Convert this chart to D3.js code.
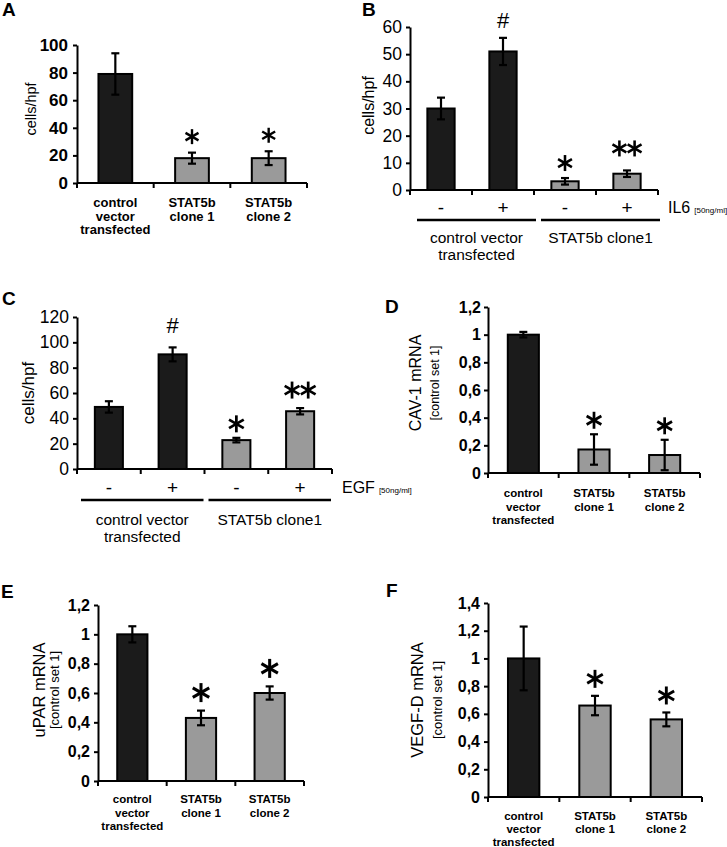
<!DOCTYPE html>
<html><head><meta charset="utf-8">
<script src="https://cdn.jsdelivr.net/npm/d3@7"></script>
<style>body{margin:0;background:#fff} svg{display:block} text{font-family:"Liberation Sans",Arial,sans-serif}</style>
</head><body><svg id="c" width="727" height="847"></svg>
<script>
// ---------- data ----------
const catLabels3 = [["control","vector","transfected"],["STAT5b","clone 1"],["STAT5b","clone 2"]];
const kinds3 = ["control","STAT5b","STAT5b"];
const kinds4 = ["control","control","STAT5b","STAT5b"];
const treatLabels = ["-","+","-","+"];
const groupLabels = [["control vector","transfected"],["STAT5b clone1"]];
const groupSpans = [[0,1],[2,3]];

const valuesA = [79, 18, 18];
const errorsA = [15, 4, 5];
const marksA = ["", "*", "*"];
const ticksA = [0,20,40,60,80,100];

const valuesB = [30, 51, 3.2, 6];
const errorsB = [4, 5, 1.2, 1.2];
const marksB = ["", "#", "*", "**"];
const ticksB = [0,10,20,30,40,50,60];

const valuesC = [49, 90.5, 22.8, 45.6];
const errorsC = [4.5, 5.5, 1.8, 2.5];
const marksC = ["", "#", "*", "**"];
const ticksC = [0,20,40,60,80,100,120];

const valuesD = [1.0, 0.17, 0.13];
const errorsD = [0.02, 0.11, 0.11];
const marksD = ["", "*", "*"];
const ticksD = [0,0.2,0.4,0.6,0.8,1,1.2];

const valuesE = [1.0, 0.43, 0.60];
const errorsE = [0.055, 0.05, 0.045];
const marksE = ["", "*", "*"];
const ticksE = [0,0.2,0.4,0.6,0.8,1,1.2];

const valuesF = [1.0, 0.66, 0.56];
const errorsF = [0.23, 0.07, 0.05];
const marksF = ["", "*", "*"];
const ticksF = [0,0.2,0.4,0.6,0.8,1,1.2,1.4];

// ---------- drawing ----------
const svg = d3.select("#c");
svg.append("rect").attr("width",727).attr("height",847).attr("fill","#fff");
const color = d3.scaleOrdinal().domain(["control","STAT5b"]).range(["#1b1b1b","#9a9a9a"]);
const FONT = "Liberation Sans, Arial, sans-serif";
const commaFmt = d => String(d).replace(".", ",");
const plainFmt = d => String(d);

function star(g, cx, cy, r) {
  const a = Math.PI/6;
  const pts = [[0,-r,0,r],[-r*Math.cos(a),-r*Math.sin(a),r*Math.cos(a),r*Math.sin(a)],[-r*Math.cos(a),r*Math.sin(a),r*Math.cos(a),-r*Math.sin(a)]];
  pts.forEach(p => g.append("line").attr("x1",cx+p[0]).attr("y1",cy+p[1]).attr("x2",cx+p[2]).attr("y2",cy+p[3])
    .attr("stroke","#000").attr("stroke-width",r*0.32));
}

function drawPanel(p) {
  const g = svg.append("g");
  const n = p.values.length;
  const x = d3.scaleBand().domain(d3.range(n)).range([p.x0, p.x1]);
  const y = d3.scaleLinear().domain([0, p.max]).range([p.y0, p.y1]);
  const bwd = x.bandwidth();
  const bw = bwd * 0.44;
  const cx = i => x(i) + bwd/2;

  // bars
  g.selectAll("rect.bar").data(p.values).join("rect").attr("class","bar")
    .attr("x",(d,i)=>cx(i)-bw/2).attr("y",d=>y(d)).attr("width",bw).attr("height",d=>y(0)-y(d))
    .attr("fill",(d,i)=>color(p.kinds[i])).attr("stroke","#000").attr("stroke-width",2);

  // error bars
  p.values.forEach((v,i) => {
    const e = p.errors[i];
    const top = y(v+e), bot = y(Math.max(0,v-e));
    g.append("line").attr("x1",cx(i)).attr("x2",cx(i)).attr("y1",top).attr("y2",bot).attr("stroke","#000").attr("stroke-width",2.2);
    [top,bot].forEach(yy => g.append("line").attr("x1",cx(i)-4).attr("x2",cx(i)+4).attr("y1",yy).attr("y2",yy).attr("stroke","#000").attr("stroke-width",2.2));
    const m = p.marks[i];
    if (m === "#") {
      g.append("text").attr("x",cx(i)).attr("y",top-p.hashOff).attr("text-anchor","middle").attr("font-size",22).text("#");
    } else if (m === "*") {
      star(g, cx(i), top-p.starOff, p.starR);
    } else if (m === "**") {
      star(g, cx(i)-p.starR*0.95, top-p.starOff2, p.starR);
      star(g, cx(i)+p.starR*0.95, top-p.starOff2, p.starR);
    }
  });

  // y axis
  const ya = g.append("g").attr("transform",`translate(${p.x0},0)`)
    .call(d3.axisLeft(y).tickValues(p.ticks).tickSize(4).tickSizeOuter(0).tickPadding(p.pad).tickFormat(p.fmt));
  ya.attr("font-family",FONT).attr("font-size",p.tickFont).attr("font-weight",p.tickWeight);
  ya.select(".domain").attr("stroke","#000").attr("stroke-width",2);
  ya.selectAll(".tick line").attr("stroke","#000").attr("stroke-width",2);
  ya.selectAll(".tick text").attr("fill","#000");

  // x axis
  g.append("line").attr("x1",p.x0).attr("x2",p.x1).attr("y1",p.y0).attr("y2",p.y0).attr("stroke","#000").attr("stroke-width",2);
  const bounds = d3.range(n).map(i=>x(i)).concat([p.x1]);
  bounds.forEach(b => g.append("line").attr("x1",b).attr("x2",b).attr("y1",p.y0).attr("y2",p.y0+5).attr("stroke","#000").attr("stroke-width",2));

  // y label
  const ly = (p.y0+p.y1)/2 + (p.labelDy||0);
  g.append("text").attr("transform",`translate(${p.labelX},${ly}) rotate(-90)`).attr("text-anchor","middle")
    .attr("dy","0.35em").attr("font-size",p.labelFont).text(p.label);
  if (p.subLabel) {
    g.append("text").attr("transform",`translate(${p.subX},${ly}) rotate(-90)`).attr("text-anchor","middle")
      .attr("dy","0.35em").attr("font-size",p.subFont).text(p.subLabel);
  }

  // panel letter
  g.append("text").attr("x",p.letterX).attr("y",p.letterY).attr("font-size",19).attr("font-weight","bold").text(p.letter);

  // category labels
  if (p.cats) {
    p.cats.forEach((lines,i) => {
      lines.forEach((t,k) => g.append("text").attr("x",cx(i)).attr("y",p.catY + k*p.catLH).attr("text-anchor","middle")
        .attr("font-size",p.catFont).attr("font-weight","bold").text(t));
    });
  }
  // treatment row
  if (p.treat) {
    p.treat.forEach((t,i) => g.append("text").attr("x",cx(i)).attr("y",p.treatY).attr("text-anchor","middle").attr("font-size",19).text(t));
    const tt = g.append("text").attr("x",p.x1+10).attr("y",p.treatY-1).attr("font-size",16).text(p.agent);
    tt.append("tspan").attr("font-size",8).attr("dx",4).text("[50ng/ml]");
    groupSpans.forEach((s,gi) => {
      const a = x(s[0]) + p.lineA, b = x(s[1]) + bwd + p.lineB;
      g.append("line").attr("x1",a).attr("x2",b).attr("y1",p.lineY).attr("y2",p.lineY).attr("stroke","#000").attr("stroke-width",2.5);
      groupLabels[gi].forEach((t,k) => g.append("text").attr("x",(a+b)/2).attr("y",p.groupY + k*17).attr("text-anchor","middle").attr("font-size",15.5).text(t));
    });
  }
}

drawPanel({letter:"A", letterX:2, letterY:16, values:valuesA, errors:errorsA, marks:marksA, ticks:ticksA, kinds:kinds3,
  x0:77, x1:307, y0:183, y1:45, max:100, fmt:plainFmt, tickFont:17, tickWeight:"bold", pad:5,
  label:"cells/hpf", labelX:31, labelFont:14.5, labelDy:-5,
  cats:catLabels3, catY:207, catLH:13.5, catFont:13, starR:7.5, starOff:16});

drawPanel({letter:"B", letterX:362, letterY:16, values:valuesB, errors:errorsB, marks:marksB, ticks:ticksB, kinds:kinds4,
  x0:410, x1:658, y0:190, y1:27, max:60, fmt:plainFmt, tickFont:17.5, tickWeight:"normal", pad:4,
  label:"cells/hpf", labelX:368, labelFont:16, labelDy:-3,
  treat:treatLabels, treatY:214, agent:"IL6", lineA:7, lineB:2, lineY:220, groupY:243,
  starR:8, starOff:15, starOff2:22, hashOff:10});

drawPanel({letter:"C", letterX:2, letterY:305, values:valuesC, errors:errorsC, marks:marksC, ticks:ticksC, kinds:kinds4,
  x0:77, x1:332, y0:469, y1:317, max:120, fmt:plainFmt, tickFont:17.5, tickWeight:"normal", pad:4,
  label:"cells/hpf", labelX:28, labelFont:17,
  treat:treatLabels, treatY:494, agent:"EGF", lineA:4, lineB:-1, lineY:500, groupY:525,
  starR:8.5, starOff:14, starOff2:18, hashOff:14});

drawPanel({letter:"D", letterX:385, letterY:313, values:valuesD, errors:errorsD, marks:marksD, ticks:ticksD, kinds:kinds3,
  x0:488, x1:700, y0:473, y1:307, max:1.2, fmt:commaFmt, tickFont:16, tickWeight:"bold", pad:3,
  label:"CAV-1 mRNA", labelX:415, labelFont:16, labelDy:-7, subLabel:"[control set 1]", subX:435, subFont:12.5,
  cats:catLabels3, catY:497, catLH:13.5, catFont:11.5, starR:8.5, starOff:14});

drawPanel({letter:"E", letterX:1, letterY:598, values:valuesE, errors:errorsE, marks:marksE, ticks:ticksE, kinds:kinds3,
  x0:98, x1:304, y0:781, y1:605, max:1.2, fmt:commaFmt, tickFont:16, tickWeight:"bold", pad:4,
  label:"uPAR mRNA", labelX:39, labelFont:16.5, labelDy:-3, subLabel:"[control set 1]", subX:54, subFont:13,
  cats:catLabels3, catY:803, catLH:13.5, catFont:11.5, starR:9.5, starOff:18});

drawPanel({letter:"F", letterX:386, letterY:597, values:valuesF, errors:errorsF, marks:marksF, ticks:ticksF, kinds:kinds3,
  x0:488, x1:702, y0:797, y1:603, max:1.4, fmt:commaFmt, tickFont:16, tickWeight:"bold", pad:4,
  label:"VEGF-D mRNA", labelX:417, labelFont:16.5, labelDy:0, subLabel:"[control set 1]", subX:437, subFont:13,
  cats:catLabels3, catY:820, catLH:13, catFont:11.5, starR:9, starOff:17});
</script></body></html>
